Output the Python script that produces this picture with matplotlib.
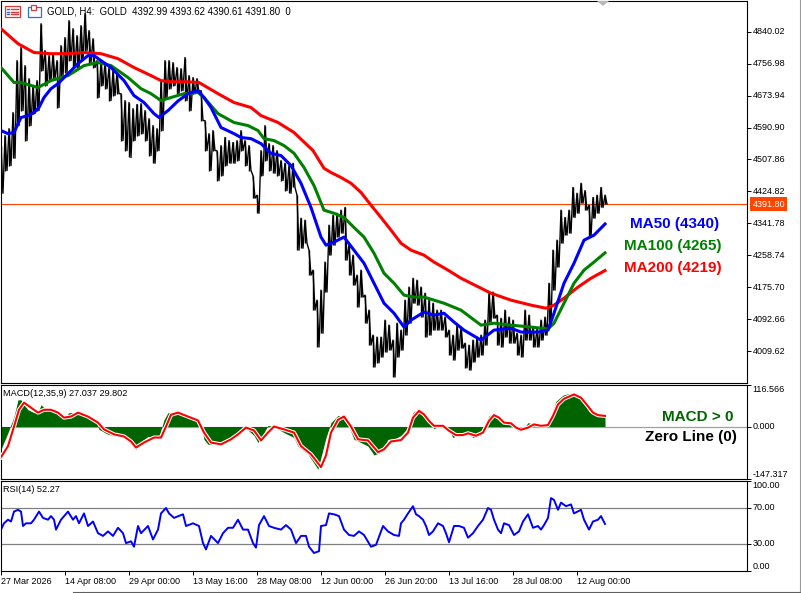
import matplotlib
matplotlib.use("Agg")
import matplotlib.pyplot as plt
import matplotlib.patheffects as pe
import matplotlib.transforms as mtransforms
from matplotlib.patches import Rectangle, Polygon

plt.rcParams['font.family'] = ['Liberation Sans', 'DejaVu Sans']

# ---- values (x = H4 bar number) ----
bar_step = 4  # one high/low reading every 4 bars
highs = [4544, 4570, 4588, 4630, 4765, 4799, 4752, 4718, 4700, 4713,
         4861, 4791, 4778, 4783, 4765, 4804, 4825, 4869, 4848, 4830,
         4856, 4887, 4843, 4822, 4765, 4765, 4760, 4747, 4739, 4734,
         4679, 4661, 4656, 4640, 4651, 4653, 4635, 4614, 4596, 4588,
         4713, 4765, 4765, 4760, 4747, 4744, 4773, 4726, 4721, 4718,
         4687, 4609, 4575, 4583, 4531, 4544, 4565, 4557, 4552, 4557,
         4583, 4557, 4544, 4466, 4415, 4531, 4596, 4549, 4544, 4531,
         4505, 4498, 4492, 4498, 4415, 4355, 4350, 4272, 4220, 4142,
         4168, 4241, 4337, 4363, 4368, 4376, 4383, 4285, 4259, 4207,
         4220, 4155, 4116, 4051, 4046, 4046, 4090, 4077, 4038, 4082,
         4064, 4142, 4176, 4199, 4194, 4176, 4160, 4142, 4134, 4116,
         4116, 4098, 4064, 4051, 4077, 4072, 4030, 4025, 4038, 4046,
         4051, 4090, 4160, 4163, 4103, 4095, 4116, 4098, 4090, 4056,
         4051, 4116, 4103, 4072, 4069, 4090, 4098, 4186, 4272, 4298,
         4376, 4357, 4376, 4435, 4420, 4446, 4427, 4389, 4409, 4415,
         4435, 4415]
lows = [4420, 4479, 4492, 4511, 4596, 4635, 4557, 4596, 4627, 4635,
        4739, 4700, 4713, 4718, 4643, 4726, 4734, 4765, 4747, 4744,
        4765, 4791, 4760, 4747, 4669, 4700, 4692, 4661, 4674, 4679,
        4557, 4531, 4513, 4557, 4570, 4575, 4557, 4518, 4498, 4531,
        4583, 4669, 4692, 4700, 4679, 4687, 4661, 4635, 4679, 4682,
        4609, 4531, 4479, 4531, 4453, 4466, 4492, 4498, 4498, 4505,
        4531, 4492, 4479, 4407, 4368, 4466, 4505, 4479, 4472, 4466,
        4453, 4427, 4420, 4435, 4272, 4277, 4290, 4207, 4116, 4020,
        4056, 4163, 4259, 4285, 4306, 4316, 4246, 4207, 4181, 4124,
        4150, 4082, 4025, 3968, 3979, 3994, 4007, 4012, 3942, 3994,
        4012, 4051, 4082, 4134, 4129, 4098, 4046, 4051, 4064, 4064,
        4064, 4046, 3999, 3986, 4012, 4017, 3966, 3960, 3981, 3994,
        3999, 4025, 4085, 4095, 4025, 4020, 4046, 4030, 4030, 3999,
        3994, 4038, 4038, 4020, 4020, 4038, 4051, 4077, 4168, 4228,
        4290, 4311, 4316, 4357, 4368, 4394, 4376, 4306, 4355, 4368,
        4383, 4392]

ma50_bars = [0, 7, 13, 20, 27, 33, 38, 43, 50, 57, 67, 77, 87, 93, 100, 110, 123, 133, 143, 153,
             158, 167, 177, 187, 197, 203, 210, 220, 233, 240, 250, 260, 270, 280, 290, 300, 310, 320, 325, 333,
             343, 353, 363, 373, 383, 393, 403, 410, 423, 433, 443, 453, 463, 480, 493, 510, 520, 537, 547, 553,
             563, 573, 583, 593, 604]
ma50 = [4583, 4575, 4578, 4617, 4622, 4630, 4643, 4669, 4692, 4705, 4731, 4757, 4778, 4778, 4765, 4747, 4713, 4674, 4656, 4627,
        4617, 4635, 4660, 4679, 4687, 4669, 4643, 4591, 4575, 4565, 4562, 4549, 4524, 4518, 4492, 4446, 4383, 4306, 4285, 4293,
        4306, 4272, 4238, 4186, 4134, 4108, 4072, 4090, 4111, 4103, 4108, 4085, 4064, 4038, 4064, 4069, 4059, 4059, 4064, 4108,
        4186, 4238, 4298, 4311, 4340]

ma100_bars = [0, 13, 20, 37, 50, 67, 83, 97, 110, 127, 140, 150, 160, 170, 183, 197, 203, 217, 233, 247,
              257, 263, 273, 283, 293, 303, 313, 323, 333, 343, 353, 363, 373, 383, 393, 403, 413, 423, 433, 443,
              460, 480, 493, 510, 530, 547, 553, 563, 573, 583, 593, 604]
ma100 = [4747, 4708, 4708, 4695, 4713, 4726, 4752, 4760, 4752, 4721, 4692, 4679, 4661, 4669, 4679, 4682, 4669, 4627, 4604, 4596,
         4583, 4562, 4557, 4544, 4524, 4487, 4440, 4376, 4368, 4357, 4331, 4306, 4264, 4212, 4186, 4155, 4150, 4150, 4142, 4134,
         4116, 4077, 4082, 4077, 4072, 4067, 4082, 4134, 4186, 4220, 4241, 4265]

ma200_bars = [0, 17, 33, 50, 67, 83, 100, 117, 133, 150, 160, 170, 185, 198, 217, 233, 250, 260, 277, 293,
              312, 323, 330, 340, 350, 360, 370, 380, 390, 400, 410, 423, 433, 447, 460, 470, 490, 510, 530, 545,
              553, 563, 577, 590, 604]
ma200 = [4848, 4809, 4786, 4783, 4783, 4786, 4783, 4770, 4747, 4726, 4713, 4710, 4710, 4708, 4679, 4656, 4643, 4622, 4604, 4578,
         4531, 4485, 4474, 4461, 4446, 4422, 4389, 4357, 4324, 4290, 4272, 4259, 4241, 4220, 4199, 4186, 4160, 4142, 4129, 4121,
         4129, 4147, 4176, 4199, 4219]

macd_bars = [0, 7, 13, 17, 20, 23, 27, 33, 37, 40, 43, 50, 57, 63, 68, 77, 83, 90, 95, 98,
             107, 117, 123, 130, 135, 140, 147, 153, 158, 163, 167, 173, 180, 187, 193, 200, 203, 207, 217, 223,
             230, 237, 243, 253, 257, 263, 267, 273, 283, 293, 297, 307, 317, 320, 325, 330, 337, 343, 348, 353,
             360, 367, 373, 380, 387, 393, 400, 408, 412, 415, 420, 425, 430, 433, 438, 445, 448, 452, 458, 465,
             472, 478, 483, 488, 492, 495, 500, 505, 512, 517, 522, 527, 532, 538, 545, 550, 555, 562, 567, 572,
             580, 585, 588, 595, 604]
macd = [-64, -17, 28, 75, 75, 61, 47, 39, 39, 61, 53, 47, 39, 25, 39, 39, 28, 28, 19, -8,
        -22, -28, -31, -50, -64, -42, -28, -33, -28, 19, 39, 39, 33, 28, 19, 6, -36, -50, -50, -47,
        -36, -17, 0, -25, -45, -17, 3, 0, -17, -31, -55, -78, -120, -86, -31, 11, 31, 28, 0, -36,
        -45, -55, -80, -72, -36, -36, -25, 0, 39, 45, 44, 30, 6, -6, 2, 2, -12, -31, -21, -15,
        -31, -24, 2, 30, 36, 25, 11, 9, 2, -12, -9, 11, 6, -3, 2, 30, 71, 88, 92, 94,
        80, 57, 42, 32, 27.037]

signal_bars = [0, 7, 13, 18, 23, 30, 37, 43, 50, 57, 63, 70, 77, 87, 97, 103, 113, 123, 130, 135,
               143, 153, 160, 165, 170, 177, 187, 197, 203, 210, 220, 230, 237, 245, 253, 260, 267, 273, 283, 293,
               300, 310, 320, 325, 330, 337, 343, 350, 357, 367, 377, 383, 390, 400, 407, 412, 418, 423, 428, 433,
               442, 448, 455, 462, 467, 475, 482, 488, 493, 498, 503, 510, 515, 520, 527, 533, 540, 547, 552, 557,
               563, 573, 580, 587, 592, 597, 604]
signal = [-86, -55, 0, 47, 67, 53, 39, 47, 47, 39, 25, 28, 39, 28, 11, -8, -22, -28, -42, -59,
          -45, -31, -31, 0, 33, 39, 28, 17, -17, -45, -50, -36, -22, -3, -11, -39, -17, 0, -8, -17,
          -55, -78, -114, -81, -17, 19, 28, 0, -36, -39, -72, -64, -42, -38, -17, 25, 44, 34, 16, 2,
          2, -12, -24, -24, -19, -26, -17, 16, 32, 25, 11, 9, -3, -9, -3, 6, 2, 4, 30, 62,
          78, 90, 81, 57, 39, 32, 29.802]

rsi_bars = [0, 3, 7, 10, 13, 17, 20, 22, 25, 30, 33, 38, 42, 47, 50, 53, 55, 60, 67, 72,
            75, 78, 83, 87, 92, 97, 102, 107, 112, 117, 122, 125, 130, 133, 137, 140, 147, 152, 157, 160,
            165, 168, 173, 182, 185, 192, 198, 202, 205, 210, 217, 222, 227, 232, 237, 242, 247, 252, 255, 258,
            263, 268, 273, 280, 285, 290, 295, 300, 305, 308, 313, 318, 320, 325, 328, 333, 338, 343, 348, 353,
            358, 363, 370, 375, 382, 387, 393, 398, 400, 403, 407, 412, 415, 418, 422, 425, 428, 432, 437, 442,
            445, 448, 453, 458, 463, 467, 472, 477, 482, 487, 490, 493, 497, 500, 503, 508, 513, 518, 522, 527,
            532, 537, 540, 543, 547, 550, 553, 557, 560, 565, 570, 573, 580, 583, 588, 592, 597, 600, 604]
rsi = [46, 53, 57, 55, 66, 68, 66, 50, 53, 53, 57, 66, 59, 57, 61, 57, 46, 57, 66, 57,
       61, 53, 64, 50, 55, 42, 39, 44, 39, 48, 42, 31, 33, 27, 50, 42, 50, 35, 46, 64,
       70, 64, 59, 63, 50, 53, 50, 31, 24, 39, 31, 42, 48, 48, 57, 46, 46, 31, 26, 51,
       61, 50, 48, 46, 51, 46, 31, 39, 39, 27, 20, 22, 50, 51, 64, 63, 61, 46, 40, 39,
       44, 40, 27, 29, 50, 44, 40, 39, 53, 57, 64, 72, 63, 61, 57, 50, 40, 44, 53, 50,
       42, 32, 50, 50, 48, 37, 42, 50, 57, 70, 68, 57, 46, 42, 53, 51, 40, 44, 55, 63,
       48, 50, 46, 51, 59, 81, 79, 68, 76, 72, 74, 64, 68, 57, 46, 55, 57, 61, 52.27]

last_price = 4391.80
header = "GOLD, H4:  GOLD  4392.99 4393.62 4390.61 4391.80  0"
macd_title = "MACD(12,35,9) 27.037 29.802"
rsi_title = "RSI(14) 52.27"
price_ticks = [4009.62, 4092.66, 4175.70, 4258.74, 4341.78, 4424.82,
               4507.86, 4590.90, 4673.94, 4756.98, 4840.02]
macd_ticks = [-147.317, 0.0, 116.566]
rsi_ticks = [0, 30, 70, 100]
rsi_levels = [30, 70]
date_bars = [0, 64, 128, 192, 256, 320, 384, 448, 512, 576]
date_labels = ["27 Mar 2026", "14 Apr 08:00", "29 Apr 00:00", "13 May 16:00", "28 May 08:00",
               "12 Jun 00:00", "26 Jun 20:00", "13 Jul 16:00", "28 Jul 08:00", "12 Aug 00:00"]
ma_labels = ["MA50 (4340)", "MA100 (4265)", "MA200 (4219)"]
ma_colors = ["#0000ff", "#008000", "#ff0000"]

W, H = 801, 593
fig = plt.figure(figsize=(W / 100, H / 100), dpi=100)


def panel(top, bottom):
    a = fig.add_axes([1 / W, 1 - bottom / H, 746 / W, (bottom - top) / H])
    a.set_xlim(0, 746)
    for s in a.spines.values():
        s.set_linewidth(0.8)
        s.set_color("black")
    a.yaxis.set_ticks_position("right")
    a.tick_params(axis="y", direction="out", length=3, width=0.7,
                  labelright=False, labelleft=False)
    a.tick_params(axis="x", bottom=False, labelbottom=False)
    return a


def right_labels(a, values, fmt, squeeze_ends):
    a.set_yticks(values)
    tr = mtransforms.blended_transform_factory(a.transAxes, a.transData)
    for i, v in enumerate(values):
        va = "center"
        if squeeze_ends and i == 0:
            va = "bottom"
        elif squeeze_ends and i == len(values) - 1:
            va = "top"
        a.text(1.0074, v, fmt % v, transform=tr, fontsize=6.5, va=va, ha="left", clip_on=False)


ax = panel(1, 383)
ax_macd = panel(385, 479)
ax_rsi = panel(481, 571)

# main price panel: high-low bars as a dense scribble
ax.set_ylim(3926.5, 4920.0)
px, py = [], []
for i, (hi, lo) in enumerate(zip(highs, lows)):
    b = i * bar_step
    px += [b, b + 2]
    py += [hi, lo]
bar_x = [i * bar_step for i in range(len(highs))]
ax.vlines(bar_x, lows, highs, color="black", lw=1.0, zorder=2)
ax.plot(px, py, color="black", lw=1.0, zorder=2)
ax.axhline(last_price, color="#ff4500", lw=0.8, zorder=1)
ax.plot(ma200_bars, ma200, color=ma_colors[2], lw=2.2, zorder=3)
ax.plot(ma100_bars, ma100, color=ma_colors[1], lw=2.2, zorder=4)
ax.plot(ma50_bars, ma50, color=ma_colors[0], lw=2.2, zorder=5)
right_labels(ax, price_ticks, "%.2f", False)
tr = mtransforms.blended_transform_factory(ax.transAxes, ax.transData)
ax.text(1.0074, last_price, "%.2f" % last_price, transform=tr, fontsize=6.5, color="white",
        va="center", ha="left", clip_on=False,
        bbox=dict(boxstyle="square,pad=0.25", fc="#ff4500", ec="none"))

# MACD panel
ax_macd.set_ylim(macd_ticks[0], macd_ticks[-1])
ax_macd.axhline(0, color="#a0a0a0", lw=0.9, zorder=1)
ax_macd.fill_between(macd_bars, 0, macd, color="#006400", lw=0, zorder=2)
ax_macd.plot(signal_bars, signal, color="#ff0000", lw=1.5, zorder=3,
             path_effects=[pe.Stroke(linewidth=3.0, foreground="white"), pe.Normal()])
right_labels(ax_macd, macd_ticks, "%.3f", True)

# RSI panel
ax_rsi.set_ylim(0, 100)
for lvl in rsi_levels:
    ax_rsi.axhline(lvl, color="#808080", lw=0.9, zorder=1)
ax_rsi.plot(rsi_bars, rsi, color="#0000ff", lw=1.4, zorder=2)
right_labels(ax_rsi, rsi_ticks, "%.2f", True)
ax_rsi.set_xticks(date_bars)
ax_rsi.set_xticklabels(date_labels, ha="left", fontsize=6.5)
ax_rsi.tick_params(axis="x", bottom=True, labelbottom=True, direction="out",
                   length=3, width=0.7, pad=1.5)

# overlay in pixel units for the window decorations and captions
ov = fig.add_axes([0, 0, 1, 1], facecolor="none")
ov.set_xlim(0, W)
ov.set_ylim(H, 0)
ov.axis("off")

ov.add_patch(Rectangle((5, 6), 15, 11, fill=False, ec="#d83a3a", lw=0.9))
for yy in (9, 11.5, 14):
    ov.plot([7, 9], [yy, yy], color="#2f6fd0", lw=1.0)
    ov.plot([11, 18], [yy, yy], color="#d83a3a", lw=1.0)
ov.add_patch(Rectangle((28, 7), 13, 10, fill=False, ec="#2f6fd0", lw=0.9))
ov.add_patch(Rectangle((31, 5), 5, 5, fc="white", ec="#d83a3a", lw=0.9))
ov.text(47, 11, header, fontsize=6.9, va="center", ha="left")
ov.add_patch(Polygon([(597, 1), (609, 1), (603, 6)], closed=True, fc="#b8b8b8", ec="none"))

ma_label_pos = [(675, 224), (673, 246), (673, 268)]
for (tx, ty), lab, col in zip(ma_label_pos, ma_labels, ma_colors):
    ov.text(tx, ty, lab, color=col, fontsize=11, fontweight="bold", ha="center", va="center")

ov.text(733, 417, "MACD > 0", color="#006400", fontsize=11, fontweight="bold", ha="right", va="center")
ov.text(737, 437, "Zero Line (0)", color="black", fontsize=11, fontweight="bold", ha="right", va="center")
ov.text(3, 394, macd_title, fontsize=6.6, va="center", ha="left")
ov.text(3, 490, rsi_title, fontsize=6.6, va="center", ha="left")

ov.plot([799.5, 799.5], [0, H], color="#9a9a9a", lw=0.8)
ov.plot([73, W], [592, 592], color="#606060", lw=0.8)

fig.savefig("out.png", dpi=100)
